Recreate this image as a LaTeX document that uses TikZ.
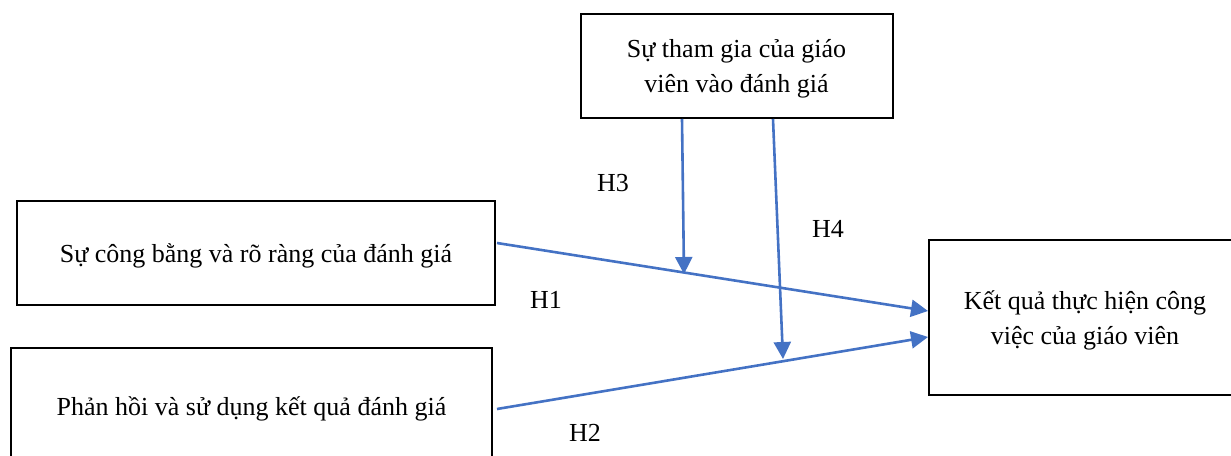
\documentclass[tikz,border=0pt]{standalone}
\usepackage{fontspec}
\setmainfont{Liberation Serif}
\usetikzlibrary{arrows.meta}
\definecolor{arrowblue}{HTML}{4472C4}
\tikzset{
  box/.style={draw=black, line width=2pt, align=center, inner sep=0pt, text depth=0pt,
    font=\fontsize{26}{35}\selectfont},
  link/.style={draw=arrowblue, line width=2.6pt, -{Triangle[length=17pt,width=17pt]}},
  lab/.style={font=\fontsize{26}{30}\selectfont, inner sep=0pt}
}
\begin{document}
\begin{tikzpicture}[x=1pt,y=-1pt]
\useasboundingbox (0,0) rectangle (1231,455);
\clip (0,0) rectangle (1231,455);
\node[box, minimum width=312pt, minimum height=104pt] (part) at (736.5,66) {Sự tham gia của giáo\\viên vào đánh giá};
\node[box, minimum width=478pt, minimum height=104pt] (fair) at (256,253) {Sự công bằng và rõ ràng của đánh giá};
\node[box, minimum width=481pt, minimum height=116pt] (feed) at (251.5,406) {Phản hồi và sử dụng kết quả đánh giá};
\node[box, minimum width=312pt, minimum height=155pt] (res) at (1085,317.5) {Kết quả thực hiện công\\việc của giáo viên};
\coordinate (h1s) at (497,243);
\coordinate (h1e) at (928,311);
\coordinate (h2s) at (497,409);
\coordinate (h2e) at (928,337);
\coordinate (h3s) at (682,119);
\coordinate (h3e) at (684,274);
\coordinate (h4s) at (773,119);
\coordinate (h4e) at (783,359);
\draw[link] (h1s) -- (h1e);
\draw[link] (h2s) -- (h2e);
\draw[link] (h3s) -- (h3e);
\draw[link] (h4s) -- (h4e);
\node[lab] (H3) at (613,183) {H3};
\node[lab] (H4) at (828,229) {H4};
\node[lab] (H1) at (546,300) {H1};
\node[lab] (H2) at (585,433) {H2};
\end{tikzpicture}
\end{document}
